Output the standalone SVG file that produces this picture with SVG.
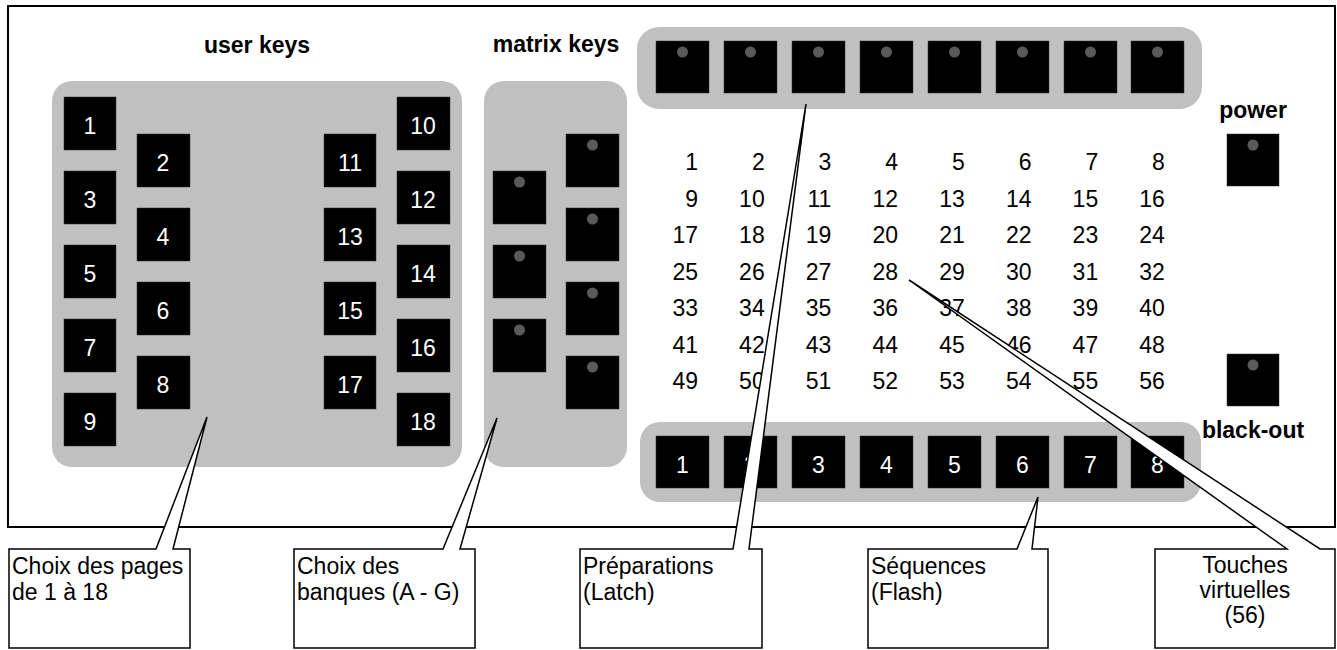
<svg xmlns="http://www.w3.org/2000/svg" width="1337" height="650" viewBox="0 0 1337 650">
<defs>
<style>
.frame{fill:#fff;stroke:#000;stroke-width:2}
.panel{fill:#c0c0c0}
.key{fill:#000;stroke:#333;stroke-width:0.5}
.led{fill:#5a5a5a}
.kl{font-family:"Liberation Sans",Arial,sans-serif;font-size:23px;fill:#fff;text-anchor:middle}
.num{font-family:"Liberation Sans",Arial,sans-serif;font-size:23px;fill:#000;text-anchor:end}
.head{font-family:"Liberation Sans",Arial,sans-serif;font-size:23px;font-weight:bold;fill:#000;text-anchor:middle}
.co{fill:#fff;stroke:#000;stroke-width:1.5;stroke-linejoin:miter}
.ct{font-family:"Liberation Sans",Arial,sans-serif;font-size:23px;fill:#000}
</style>
</defs>
<rect class="frame" x="8" y="6" width="1327" height="521"/>

<g id="user-keys">
<rect class="panel" x="52" y="81" width="410" height="386" rx="20"/>
<text class="head" x="257" y="53">user keys</text>
<rect class="key" x="64" y="97" width="52" height="53"/><text class="kl" x="90" y="134">1</text>
<rect class="key" x="64" y="171" width="52" height="53"/><text class="kl" x="90" y="208">3</text>
<rect class="key" x="64" y="245" width="52" height="53"/><text class="kl" x="90" y="282">5</text>
<rect class="key" x="64" y="319" width="52" height="53"/><text class="kl" x="90" y="356">7</text>
<rect class="key" x="64" y="393" width="52" height="53"/><text class="kl" x="90" y="430">9</text>
<rect class="key" x="137" y="134" width="53" height="53"/><text class="kl" x="163" y="171">2</text>
<rect class="key" x="137" y="208" width="53" height="53"/><text class="kl" x="163" y="245">4</text>
<rect class="key" x="137" y="282" width="53" height="53"/><text class="kl" x="163" y="319">6</text>
<rect class="key" x="137" y="356" width="53" height="53"/><text class="kl" x="163" y="393">8</text>
<rect class="key" x="324" y="134" width="52" height="53"/><text class="kl" x="350" y="171">11</text>
<rect class="key" x="324" y="208" width="52" height="53"/><text class="kl" x="350" y="245">13</text>
<rect class="key" x="324" y="282" width="52" height="53"/><text class="kl" x="350" y="319">15</text>
<rect class="key" x="324" y="356" width="52" height="53"/><text class="kl" x="350" y="393">17</text>
<rect class="key" x="397" y="97" width="53" height="53"/><text class="kl" x="423" y="134">10</text>
<rect class="key" x="397" y="171" width="53" height="53"/><text class="kl" x="423" y="208">12</text>
<rect class="key" x="397" y="245" width="53" height="53"/><text class="kl" x="423" y="282">14</text>
<rect class="key" x="397" y="319" width="53" height="53"/><text class="kl" x="423" y="356">16</text>
<rect class="key" x="397" y="393" width="53" height="53"/><text class="kl" x="423" y="430">18</text>
</g>

<g id="matrix-keys">
<rect class="panel" x="484" y="81" width="143" height="386" rx="20"/>
<text class="head" x="556" y="52">matrix keys</text>
<rect class="key" x="493" y="171" width="53" height="53"/><circle class="led" cx="519.5" cy="182" r="5.5"/>
<rect class="key" x="493" y="245" width="53" height="53"/><circle class="led" cx="519.5" cy="256" r="5.5"/>
<rect class="key" x="493" y="319" width="53" height="53"/><circle class="led" cx="519.5" cy="330" r="5.5"/>
<rect class="key" x="566" y="134" width="53" height="53"/><circle class="led" cx="592.5" cy="145" r="5.5"/>
<rect class="key" x="566" y="208" width="53" height="53"/><circle class="led" cx="592.5" cy="219" r="5.5"/>
<rect class="key" x="566" y="282" width="53" height="53"/><circle class="led" cx="592.5" cy="293" r="5.5"/>
<rect class="key" x="566" y="356" width="53" height="53"/><circle class="led" cx="592.5" cy="367" r="5.5"/>
</g>

<g id="preparation-keys">
<rect class="panel" x="637" y="27" width="565" height="82" rx="22"/>
<rect class="key" x="656" y="41" width="53" height="52"/><circle class="led" cx="682.5" cy="52" r="5.5"/>
<rect class="key" x="724" y="41" width="53" height="52"/><circle class="led" cx="750.5" cy="52" r="5.5"/>
<rect class="key" x="792" y="41" width="53" height="52"/><circle class="led" cx="818.5" cy="52" r="5.5"/>
<rect class="key" x="860" y="41" width="53" height="52"/><circle class="led" cx="886.5" cy="52" r="5.5"/>
<rect class="key" x="928" y="41" width="53" height="52"/><circle class="led" cx="954.5" cy="52" r="5.5"/>
<rect class="key" x="996" y="41" width="53" height="52"/><circle class="led" cx="1022.5" cy="52" r="5.5"/>
<rect class="key" x="1064" y="41" width="53" height="52"/><circle class="led" cx="1090.5" cy="52" r="5.5"/>
<rect class="key" x="1131" y="41" width="53" height="52"/><circle class="led" cx="1157.5" cy="52" r="5.5"/>
</g>

<g id="sequence-keys">
<rect class="panel" x="640" y="422" width="561" height="80" rx="20"/>
<rect class="key" x="656" y="436" width="53" height="52"/><text class="kl" x="682.5" y="473">1</text>
<rect class="key" x="724" y="436" width="53" height="52"/><text class="kl" x="750.5" y="473">2</text>
<rect class="key" x="792" y="436" width="53" height="52"/><text class="kl" x="818.5" y="473">3</text>
<rect class="key" x="860" y="436" width="53" height="52"/><text class="kl" x="886.5" y="473">4</text>
<rect class="key" x="928" y="436" width="53" height="52"/><text class="kl" x="954.5" y="473">5</text>
<rect class="key" x="996" y="436" width="53" height="52"/><text class="kl" x="1022.5" y="473">6</text>
<rect class="key" x="1064" y="436" width="53" height="52"/><text class="kl" x="1090.5" y="473">7</text>
<rect class="key" x="1131" y="436" width="53" height="52"/><text class="kl" x="1157.5" y="473">8</text>
</g>

<g id="virtual-keys">
<text class="num" x="698" y="170">1</text><text class="num" x="764.7" y="170">2</text><text class="num" x="831.4" y="170">3</text><text class="num" x="898.1" y="170">4</text><text class="num" x="964.8" y="170">5</text><text class="num" x="1031.5" y="170">6</text><text class="num" x="1098.2" y="170">7</text><text class="num" x="1164.9" y="170">8</text>
<text class="num" x="698" y="206.5">9</text><text class="num" x="764.7" y="206.5">10</text><text class="num" x="831.4" y="206.5">11</text><text class="num" x="898.1" y="206.5">12</text><text class="num" x="964.8" y="206.5">13</text><text class="num" x="1031.5" y="206.5">14</text><text class="num" x="1098.2" y="206.5">15</text><text class="num" x="1164.9" y="206.5">16</text>
<text class="num" x="698" y="243">17</text><text class="num" x="764.7" y="243">18</text><text class="num" x="831.4" y="243">19</text><text class="num" x="898.1" y="243">20</text><text class="num" x="964.8" y="243">21</text><text class="num" x="1031.5" y="243">22</text><text class="num" x="1098.2" y="243">23</text><text class="num" x="1164.9" y="243">24</text>
<text class="num" x="698" y="279.5">25</text><text class="num" x="764.7" y="279.5">26</text><text class="num" x="831.4" y="279.5">27</text><text class="num" x="898.1" y="279.5">28</text><text class="num" x="964.8" y="279.5">29</text><text class="num" x="1031.5" y="279.5">30</text><text class="num" x="1098.2" y="279.5">31</text><text class="num" x="1164.9" y="279.5">32</text>
<text class="num" x="698" y="316">33</text><text class="num" x="764.7" y="316">34</text><text class="num" x="831.4" y="316">35</text><text class="num" x="898.1" y="316">36</text><text class="num" x="964.8" y="316">37</text><text class="num" x="1031.5" y="316">38</text><text class="num" x="1098.2" y="316">39</text><text class="num" x="1164.9" y="316">40</text>
<text class="num" x="698" y="352.5">41</text><text class="num" x="764.7" y="352.5">42</text><text class="num" x="831.4" y="352.5">43</text><text class="num" x="898.1" y="352.5">44</text><text class="num" x="964.8" y="352.5">45</text><text class="num" x="1031.5" y="352.5">46</text><text class="num" x="1098.2" y="352.5">47</text><text class="num" x="1164.9" y="352.5">48</text>
<text class="num" x="698" y="389">49</text><text class="num" x="764.7" y="389">50</text><text class="num" x="831.4" y="389">51</text><text class="num" x="898.1" y="389">52</text><text class="num" x="964.8" y="389">53</text><text class="num" x="1031.5" y="389">54</text><text class="num" x="1098.2" y="389">55</text><text class="num" x="1164.9" y="389">56</text>
</g>

<g id="power">
<text class="head" x="1253" y="118">power</text>
<rect class="key" x="1227" y="134" width="52" height="52"/><circle class="led" cx="1253" cy="145" r="5.5"/>
</g>
<g id="black-out">
<rect class="key" x="1227" y="354" width="52" height="52"/><circle class="led" cx="1253" cy="365" r="5.5"/>
<text class="head" x="1253" y="438">black-out</text>
</g>

<g id="connectors">
<path class="co" d="M9,549 L156,549 L207,417 L173,549 L190,549 L190,648 L9,648 Z"/>
<path class="co" d="M294,549 L443,549 L497,418 L460,549 L475,549 L475,648 L294,648 Z"/>
<path class="co" d="M580,549 L733,549 L806,104 L749,549 L762,549 L762,648 L580,648 Z"/>
<path class="co" d="M868,549 L1017,549 L1038,497 L1032,549 L1048,549 L1048,648 L868,648 Z"/>
<path class="co" d="M1155,549 L1287,549 L909,280 L1320,549 L1335,549 L1335,648 L1155,648 Z"/>
</g>

<g id="callout-pages"><text class="ct" x="12" y="574">Choix des pages</text><text class="ct" x="12" y="600">de 1 à 18</text></g>
<g id="callout-banques"><text class="ct" x="297" y="574">Choix des</text><text class="ct" x="297" y="600">banques (A - G)</text></g>
<g id="callout-preparations"><text class="ct" x="583" y="574">Préparations</text><text class="ct" x="583" y="600">(Latch)</text></g>
<g id="callout-sequences"><text class="ct" x="871" y="574">Séquences</text><text class="ct" x="871" y="600">(Flash)</text></g>
<g id="callout-touches"><text class="ct" x="1245" y="573" text-anchor="middle">Touches</text><text class="ct" x="1245" y="598" text-anchor="middle">virtuelles</text><text class="ct" x="1245" y="623" text-anchor="middle">(56)</text></g>
</svg>
